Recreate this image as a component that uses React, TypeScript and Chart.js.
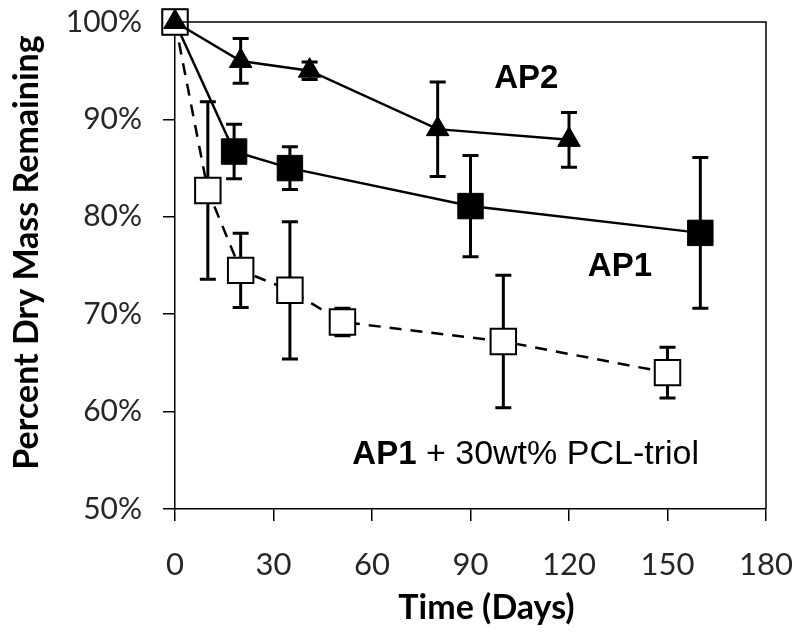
import React, { useEffect, useRef } from "react";
import { Chart, registerables } from "chart.js";

Chart.register(...registerables);

// ---- data ----
const X_TICKS = [0, 30, 60, 90, 120, 150, 180];
const Y_TICKS = [50, 60, 70, 80, 90, 100];

const AP2_DAYS = [0, 20, 41, 80, 120];
const AP2_MASS = [100, 96.0, 95.0, 89.0, 87.9];
const AP2_ERR = [0, 2.3, 0.9, 4.85, 2.8];

const AP1_DAYS = [0, 18, 35, 90, 160];
const AP1_MASS = [100, 86.7, 85.0, 81.1, 78.35];
const AP1_ERR = [0, 2.8, 2.2, 5.2, 7.75];

const PCL_DAYS = [0, 10, 20, 35, 51, 100, 150];
const PCL_MASS = [100, 82.7, 74.5, 72.45, 69.2, 67.2, 64.0];
const PCL_ERR = [0, 9.1, 3.8, 7.05, 1.4, 6.8, 2.6];

const AP2_LABEL = "AP2";
const AP1_LABEL = "AP1";
const PCL_LABEL_BOLD = "AP1";
const PCL_LABEL_REST = " + 30wt% PCL-triol";
const X_TITLE = "Time (Days)";
const Y_TITLE = "Percent Dry Mass Remaining";

const toPoints = (xs: number[], ys: number[]) => xs.map((x, i) => ({ x, y: ys[i] }));

const errorBarPlugin = {
  id: "errorBars",
  beforeDatasetsDraw(chart: any) {
    const ctx = chart.ctx;
    const ys = chart.scales.y;
    ctx.save();
    ctx.strokeStyle = "#000";
    ctx.lineWidth = 3;
    ctx.lineCap = "butt";
    chart.data.datasets.forEach((ds: any, di: number) => {
      const meta = chart.getDatasetMeta(di);
      ds.data.forEach((p: any, i: number) => {
        const e = ds.errors[i];
        if (!e) return;
        const x = meta.data[i].x;
        const top = ys.getPixelForValue(p.y + e);
        const bot = ys.getPixelForValue(p.y - e);
        const hw = 8;
        ctx.beginPath();
        ctx.moveTo(x, top);
        ctx.lineTo(x, bot);
        ctx.moveTo(x - hw, top);
        ctx.lineTo(x + hw, top);
        ctx.moveTo(x - hw, bot);
        ctx.lineTo(x + hw, bot);
        ctx.stroke();
      });
    });
    ctx.restore();
  },
};

const framePlugin = {
  id: "frameAndText",
  afterDraw(chart: any) {
    const ctx = chart.ctx;
    const a = chart.chartArea;
    const xs = chart.scales.x;
    const ys = chart.scales.y;
    ctx.save();
    ctx.strokeStyle = "#000";
    ctx.lineWidth = 1.5;
    ctx.beginPath();
    ctx.moveTo(a.left, a.top);
    ctx.lineTo(a.right, a.top);
    ctx.lineTo(a.right, a.bottom);
    ctx.stroke();

    // annotations
    ctx.fillStyle = "#000";
    ctx.textBaseline = "middle";
    ctx.textAlign = "center";
    ctx.font = "bold 33px 'Liberation Sans', Arial, sans-serif";
    ctx.fillText(AP2_LABEL, xs.getPixelForValue(107), ys.getPixelForValue(94.15));
    ctx.fillText(AP1_LABEL, xs.getPixelForValue(135.5), ys.getPixelForValue(74.85));

    ctx.textAlign = "left";
    const px = xs.getPixelForValue(54);
    const py = ys.getPixelForValue(55.6);
    ctx.font = "bold 33px 'Liberation Sans', Arial, sans-serif";
    ctx.fillText(PCL_LABEL_BOLD, px, py);
    const w = ctx.measureText(PCL_LABEL_BOLD).width;
    ctx.font = "34px 'Liberation Sans', Arial, sans-serif";
    ctx.fillText(PCL_LABEL_REST, px + w, py);

    // axis titles
    ctx.font = "bold 34px Lato, sans-serif";
    ctx.textAlign = "center";
    ctx.fillText(X_TITLE, (a.left + a.right) / 2 + 16, 608);
    ctx.translate(27, (a.top + a.bottom) / 2 - 13);
    ctx.rotate(-Math.PI / 2);
    ctx.fillText(Y_TITLE, 0, 0);
    ctx.restore();
  },
};

export default function App() {
  const ref = useRef<HTMLCanvasElement | null>(null);
  useEffect(() => {
    if (!ref.current) return;
    const chart = new Chart(ref.current, {
      type: "line",
      data: {
        datasets: [
          {
            label: "AP2",
            data: toPoints(AP2_DAYS, AP2_MASS),
            errors: AP2_ERR,
            borderColor: "#000",
            backgroundColor: "#000",
            borderWidth: 2.5,
            pointStyle: "triangle",
            pointRadius: 13,
            pointBackgroundColor: "#000",
            pointBorderColor: "#000",
            pointBorderWidth: 1,
            clip: false,
          },
          {
            label: "AP1 + 30wt% PCL-triol",
            data: toPoints(PCL_DAYS, PCL_MASS),
            errors: PCL_ERR,
            borderColor: "#000",
            backgroundColor: "#fff",
            borderWidth: 2.5,
            borderDash: [12, 9],
            pointStyle: "rect",
            pointRadius: 18,
            pointBackgroundColor: "#fff",
            pointBorderColor: "#000",
            pointBorderWidth: 2,
            clip: false,
          },
          {
            label: "AP1",
            data: toPoints(AP1_DAYS, AP1_MASS),
            errors: AP1_ERR,
            borderColor: "#000",
            backgroundColor: "#000",
            borderWidth: 2.5,
            pointStyle: "rect",
            pointRadius: 18,
            pointBackgroundColor: "#000",
            pointBorderColor: "#000",
            pointBorderWidth: 1,
            clip: false,
          },
        ] as any,
      },
      options: {
        animation: false,
        responsive: true,
        maintainAspectRatio: false,
        layout: { padding: { top: 22, right: 34, left: 0, bottom: 0 } },
        plugins: { legend: { display: false }, tooltip: { enabled: false } },
        scales: {
          x: {
            type: "linear",
            min: 0,
            max: 180,
            afterBuildTicks: (s: any) => {
              s.ticks = X_TICKS.map((v) => ({ value: v }));
            },
            afterFit: (s: any) => {
              s.height = 127;
              s.paddingLeft = 0;
              s.paddingRight = 0;
            },
            grid: { drawOnChartArea: false, drawTicks: true, tickLength: 12, color: "#000", lineWidth: 1.5 },
            border: { display: true, color: "#000", width: 1.5 },
            ticks: { color: "#262626", font: { family: "Lato", size: 31 }, padding: 25, maxRotation: 0 },
          },
          y: {
            type: "linear",
            min: 50,
            max: 100,
            afterBuildTicks: (s: any) => {
              s.ticks = Y_TICKS.map((v) => ({ value: v }));
            },
            afterFit: (s: any) => {
              s.width = 175;
              s.paddingTop = 0;
              s.paddingBottom = 0;
            },
            grid: { drawOnChartArea: false, drawTicks: true, tickLength: 12, color: "#000", lineWidth: 1.5 },
            border: { display: true, color: "#000", width: 1.5 },
            ticks: {
              color: "#262626",
              font: { family: "Lato", size: 30 },
              padding: 21,
              callback: (v: any) => v + "%",
            },
          },
        },
      } as any,
      plugins: [errorBarPlugin, framePlugin],
    });
    return () => chart.destroy();
  }, []);
  return (
    <div style={{ position: "absolute", left: 0, top: 0, width: 800, height: 636, background: "#fff" }}>
      <canvas ref={ref} />
    </div>
  );
}
